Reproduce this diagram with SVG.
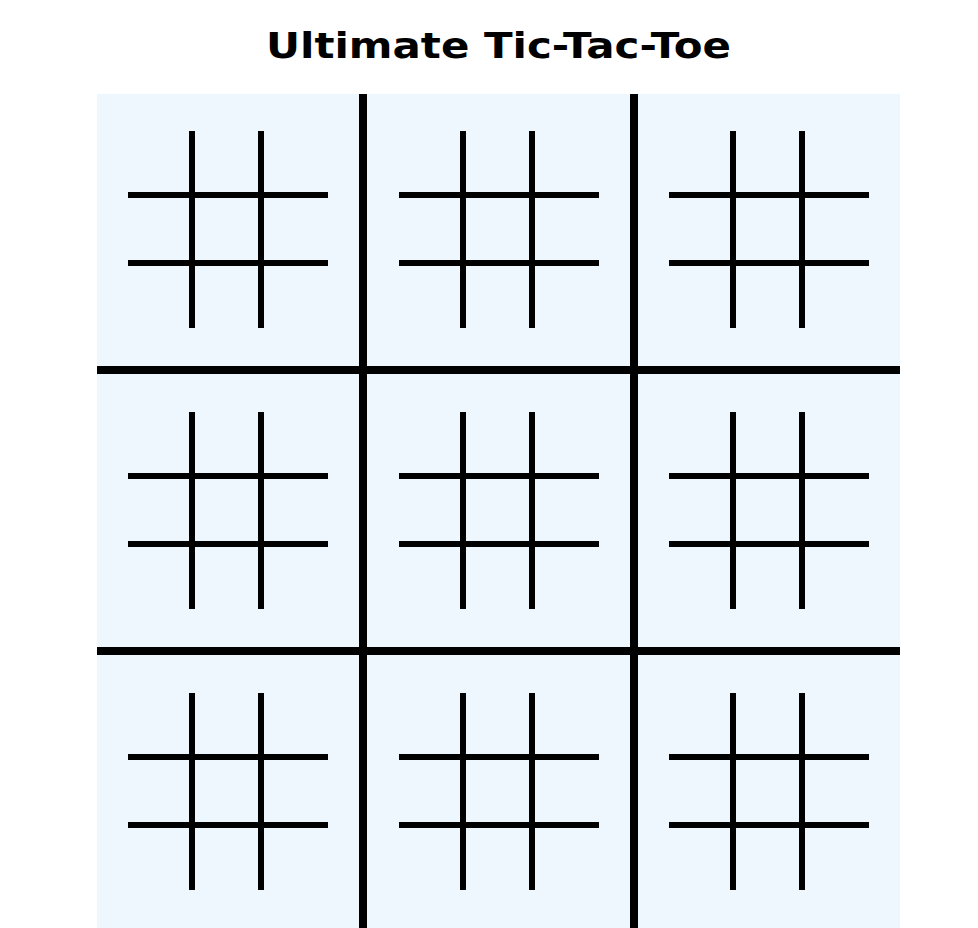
<svg xmlns="http://www.w3.org/2000/svg" width="978" height="928" viewBox="0 0 978 928">
<style>
.title{font-family:"DejaVu Sans",Verdana,sans-serif;font-weight:bold;font-size:35px;fill:#000}
.big{stroke:#000;stroke-width:8;fill:none}
.small{stroke:#000;stroke-width:6;fill:none}
</style>
<defs>
<g id="mini">
<line class="small" x1="0" y1="64" x2="200" y2="64"/>
<line class="small" x1="0" y1="132" x2="200" y2="132"/>
<line class="small" x1="64" y1="0" x2="64" y2="197"/>
<line class="small" x1="133" y1="0" x2="133" y2="197"/>
</g>
</defs>
<rect width="978" height="928" fill="#fff"/>
<text class="title" x="498.5" y="58" text-anchor="middle" textLength="465" lengthAdjust="spacingAndGlyphs">Ultimate Tic-Tac-Toe</text>
<rect id="board" x="97" y="94" width="803" height="834" fill="#EEF6FE"/>
<g id="cell-1-1"><use href="#mini" x="128" y="131"/></g>
<g id="cell-1-2"><use href="#mini" x="399" y="131"/></g>
<g id="cell-1-3"><use href="#mini" x="669" y="131"/></g>
<g id="cell-2-1"><use href="#mini" x="128" y="412"/></g>
<g id="cell-2-2"><use href="#mini" x="399" y="412"/></g>
<g id="cell-2-3"><use href="#mini" x="669" y="412"/></g>
<g id="cell-3-1"><use href="#mini" x="128" y="693"/></g>
<g id="cell-3-2"><use href="#mini" x="399" y="693"/></g>
<g id="cell-3-3"><use href="#mini" x="669" y="693"/></g>
<g id="big-grid">
<line class="big" x1="363" y1="94" x2="363" y2="928"/>
<line class="big" x1="634" y1="94" x2="634" y2="928"/>
<line class="big" x1="97" y1="370" x2="900" y2="370"/>
<line class="big" x1="97" y1="651" x2="900" y2="651"/>
</g>
</svg>
